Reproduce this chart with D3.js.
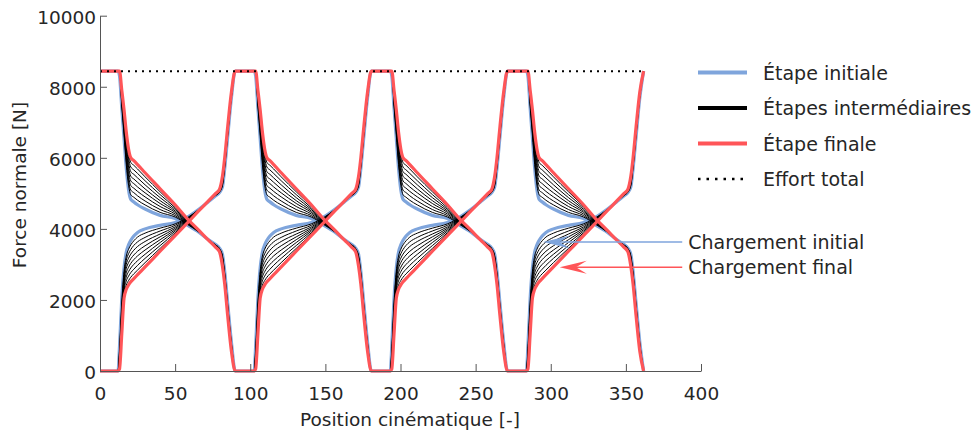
<!DOCTYPE html>
<html><head><meta charset="utf-8">
<script src="https://cdn.jsdelivr.net/npm/d3@7"></script>
<style>
body{margin:0;background:#fff}
text{font-family:"DejaVu Sans",sans-serif;fill:#262626}
</style>
</head><body>
<svg id="c" width="977" height="434"></svg>
<script>
// ---------- data ----------
const xTicks = [0, 50, 100, 150, 200, 250, 300, 350, 400];
const yTicks = [0, 2000, 4000, 6000, 8000, 10000];
const cycleStarts = [0, 90.6, 181.2, 271.8];
const profileT = [0, 12, 13, 14.5, 16, 17.5, 19, 20.5, 22.5, 25, 30, 40, 50, 58, 66, 72, 77, 79.5, 81.5, 83, 85, 87.5, 90];

const initialDown = [8440, 8440, 8300, 7400, 6550, 5700, 5100, 4830, 4760, 4680, 4560, 4380, 4290, 4110, 3900, 3700, 3560, 3460, 3280, 2800, 1900, 800, 0];
const initialUp   = [0, 0, 700, 2050, 2900, 3350, 3550, 3680, 3800, 3900, 4000, 4100, 4180, 4330, 4560, 4760, 4930, 5020, 5180, 5700, 6600, 7700, 8440];

const intermediateDown = [
  [8440, 8440, 8440, 7455, 6640, 5810, 5230, 4960, 4890, 4805, 4675, 4465, 4335, 4130, 3905, 3700, 3550, 3450, 3245, 2760, 1860, 770, 0],
  [8440, 8440, 8440, 7510, 6730, 5925, 5355, 5090, 5020, 4930, 4785, 4545, 4375, 4150, 3910, 3700, 3540, 3440, 3215, 2720, 1820, 745, 0],
  [8440, 8440, 8440, 7565, 6820, 6040, 5485, 5220, 5145, 5055, 4900, 4630, 4420, 4170, 3915, 3700, 3535, 3430, 3180, 2685, 1785, 715, 0],
  [8440, 8440, 8440, 7620, 6905, 6155, 5610, 5350, 5275, 5180, 5015, 4715, 4465, 4190, 3920, 3695, 3525, 3420, 3135, 2645, 1745, 690, 0],
  [8440, 8440, 8440, 7680, 6995, 6265, 5740, 5480, 5405, 5310, 5125, 4795, 4505, 4210, 3930, 3695, 3515, 3405, 3100, 2605, 1705, 660, 0],
  [8440, 8440, 8440, 7735, 7085, 6380, 5865, 5610, 5535, 5435, 5240, 4880, 4550, 4230, 3935, 3695, 3505, 3395, 3065, 2565, 1665, 635, 0],
  [8440, 8440, 8440, 7790, 7170, 6495, 5995, 5740, 5660, 5560, 5355, 4965, 4595, 4250, 3940, 3690, 3500, 3385, 3030, 2530, 1630, 605, 0],
  [8440, 8440, 8440, 7845, 7260, 6605, 6120, 5870, 5790, 5685, 5465, 5045, 4635, 4270, 3945, 3690, 3490, 3370, 2990, 2490, 1590, 580, 0]
];
const intermediateUp = [
  [0, 0, 630, 1940, 2805, 3235, 3425, 3550, 3665, 3770, 3880, 4020, 4140, 4310, 4555, 4760, 4940, 5030, 5215, 5735, 6630, 7720, 8440],
  [0, 0, 560, 1830, 2710, 3115, 3300, 3420, 3535, 3635, 3760, 3940, 4100, 4290, 4550, 4765, 4945, 5040, 5245, 5765, 6660, 7735, 8440],
  [0, 0, 485, 1715, 2615, 3000, 3175, 3290, 3400, 3505, 3645, 3855, 4055, 4275, 4545, 4765, 4955, 5050, 5280, 5800, 6695, 7755, 8440],
  [0, 0, 415, 1605, 2520, 2885, 3050, 3160, 3265, 3370, 3525, 3775, 4015, 4255, 4540, 4770, 4960, 5060, 5315, 5835, 6725, 7770, 8440],
  [0, 0, 345, 1495, 2430, 2765, 2920, 3030, 3135, 3240, 3405, 3695, 3975, 4235, 4540, 4770, 4970, 5070, 5345, 5865, 6755, 7790, 8440],
  [0, 0, 275, 1385, 2335, 2650, 2795, 2900, 3000, 3105, 3285, 3615, 3935, 4215, 4535, 4775, 4975, 5080, 5380, 5900, 6785, 7805, 8440],
  [0, 0, 200, 1270, 2240, 2535, 2670, 2770, 2865, 2975, 3170, 3530, 3890, 4200, 4530, 4775, 4985, 5090, 5415, 5935, 6820, 7825, 8440],
  [0, 0, 130, 1160, 2145, 2415, 2545, 2640, 2735, 2840, 3050, 3450, 3850, 4180, 4525, 4780, 4990, 5100, 5445, 5965, 6850, 7840, 8440]
];
const finalDown = [8440, 8440, 8440, 7900, 7350, 6720, 6250, 6000, 5920, 5810, 5580, 5130, 4680, 4290, 3950, 3690, 3480, 3360, 2950, 2450, 1550, 550, 0];
const finalUp   = [0, 0, 60, 1050, 2050, 2300, 2420, 2510, 2600, 2710, 2930, 3370, 3810, 4160, 4520, 4780, 5000, 5110, 5480, 6000, 6880, 7860, 8440];

const effortX = [0, 362];
const effortY = [8440, 8440];

const legendLabels = ["Étape initiale", "Étapes intermédiaires", "Étape finale", "Effort total"];
const annotLabels = ["Chargement initial", "Chargement final"];
const annotTipX = [295, 306];
const annotTipY = [3630, 2920];
const annotTextX = 391.5;

// ---------- styles ----------
const BLUE = "#7fa5dc", RED = "#ff5558", TXT = "#262626", AX = "#555";

const svg = d3.select("#c");
const x = d3.scaleLinear().domain([0, 400]).range([100, 701]);
const y = d3.scaleLinear().domain([0, 10000]).range([371, 15.7]);
const line = d3.line().x(d => x(d[0])).y(d => y(d[1])).curve(d3.curveMonotoneX);

function chain(down, up, startDown) {
  const pts = [];
  cycleStarts.forEach((s, k) => {
    const prof = ((k % 2 === 0) === startDown) ? down : up;
    profileT.forEach((t, i) => pts.push([s + t, prof[i]]));
  });
  return pts;
}

const g = svg.append("g");
function drawStep(down, up, color, width) {
  [true, false].forEach(sd => {
    g.append("path").attr("d", line(chain(down, up, sd)))
      .attr("fill", "none").attr("stroke", color).attr("stroke-width", width)
      .attr("stroke-linejoin", "round");
  });
}
drawStep(initialDown, initialUp, BLUE, 3.2);
intermediateDown.forEach((d, i) => drawStep(d, intermediateUp[i], "#000", 1));
drawStep(finalDown, finalUp, RED, 3.2);

// effort total
g.append("path").attr("d", d3.line().x(d => x(d[0])).y(d => y(d[1]))(effortX.map((v, i) => [v, effortY[i]])))
  .attr("fill", "none").attr("stroke", "#000").attr("stroke-width", 2)
  .attr("stroke-dasharray", "2,5");

// axes
const xAxis = svg.append("g").attr("transform", `translate(0,${y(0)})`)
  .call(d3.axisBottom(x).tickValues(xTicks).tickFormat(d3.format("d")).tickSizeInner(-7).tickSizeOuter(0));
const yAxis = svg.append("g").attr("transform", `translate(${x(0)},0)`)
  .call(d3.axisLeft(y).tickValues(yTicks).tickFormat(d3.format("d")).tickSizeInner(-7).tickSizeOuter(0).tickPadding(4));
[xAxis, yAxis].forEach(a => {
  a.selectAll("path,line").attr("stroke", AX).attr("stroke-width", 1);
  a.selectAll("text").style("font-family", '"DejaVu Sans",sans-serif')
    .style("font-size", "18.5px").attr("fill", TXT);
});
xAxis.selectAll("text").attr("y", 29).attr("dy", 0);
yAxis.selectAll("text").attr("dy", "0.4em");

svg.append("text").attr("x", 410).attr("y", 426).attr("text-anchor", "middle")
  .style("font-size", "18.5px").text("Position cinématique [-]");
svg.append("text").attr("transform", `translate(26,185) rotate(-90)`)
  .attr("text-anchor", "middle").style("font-size", "18.5px").text("Force normale [N]");

// legend
const legY = [72.5, 108, 143.5, 179];
const legColors = [BLUE, "#000", RED, "#000"];
legendLabels.forEach((lab, i) => {
  const l = svg.append("line").attr("x1", 698).attr("x2", 747)
    .attr("y1", legY[i]).attr("y2", legY[i]).attr("stroke", legColors[i]);
  if (i === 3) l.attr("stroke-width", 2.5).attr("stroke-dasharray", "2.5,6");
  else l.attr("stroke-width", 4);
  svg.append("text").attr("x", 763).attr("y", legY[i] + 7).style("font-size", "19px").text(lab);
});

// annotations
const annColors = [BLUE, RED];
annotLabels.forEach((lab, i) => {
  const tx = x(annotTipX[i]), ty = y(annotTipY[i]);
  const L = 27, h = 6.5;
  svg.append("line").attr("x1", x(annotTextX) - 6).attr("x2", tx + L * 0.6)
    .attr("y1", ty).attr("y2", ty).attr("stroke", annColors[i]).attr("stroke-width", 1.4);
  svg.append("path")
    .attr("d", `M${tx},${ty}L${tx + L},${ty - h}L${tx + L * 0.6},${ty}L${tx + L},${ty + h}Z`)
    .attr("fill", annColors[i]);
  svg.append("text").attr("x", x(annotTextX)).attr("y", ty + 7)
    .style("font-size", "19px").text(lab);
});
</script>
</body></html>
